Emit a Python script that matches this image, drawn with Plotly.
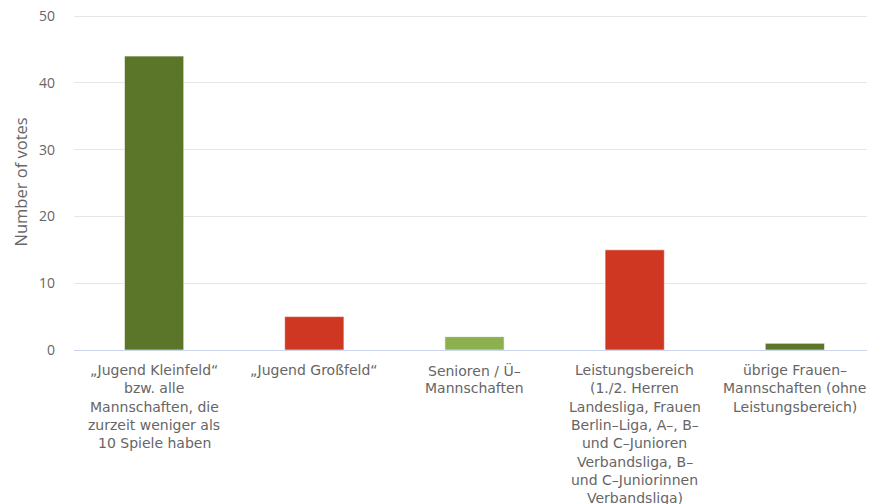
import plotly.graph_objects as go

categories = [
    "„Jugend Kleinfeld“<br>bzw. alle<br>Mannschaften, die<br>zurzeit weniger als<br>10 Spiele haben",
    "„Jugend Großfeld“",
    "Senioren / Ü–<br>Mannschaften",
    "Leistungsbereich<br>(1./2. Herren<br>Landesliga, Frauen<br>Berlin–Liga, A–, B–<br>und C–Junioren<br>Verbandsliga, B–<br>und C–Juniorinnen<br>Verbandsliga)",
    "übrige Frauen–<br>Mannschaften (ohne<br>Leistungsbereich)",
]
votes = [44, 5, 2, 15, 1]
colors = ["#5b7628", "#cf3723", "#8bb04d", "#cf3723", "#5b7628"]
y_ticks = [0, 10, 20, 30, 40, 50]

xs = list(range(len(categories)))

fig = go.Figure()
fig.add_trace(go.Bar(
    x=xs, y=votes,
    marker=dict(color=colors, line=dict(color="rgba(255,255,255,0.6)", width=1)),
    width=0.37,
    hoverinfo="y",
))

annotations = []
for i, cat in enumerate(categories):
    for k, line in enumerate(cat.split("<br>")):
        annotations.append(dict(
            x=i, xref="x", y=0, yref="paper", yanchor="top",
            yshift=-10 - 18.3 * k, text=line, showarrow=False,
            font=dict(family="DejaVu Sans", size=14, color="#666666"),
        ))
annotations.append(dict(
    x=0, xref="paper", y=0.5, yref="paper", xshift=-68, textangle=-90,
    text="Number of votes", showarrow=False,
    font=dict(family="Open Sans", size=16.5, color="#666666"),
))

fig.update_layout(
    width=875, height=504,
    margin=dict(l=66, r=8, t=6, b=162),
    paper_bgcolor="white", plot_bgcolor="white",
    showlegend=False,
    annotations=annotations,
    xaxis=dict(
        range=[-0.5, len(categories) - 0.5],
        showticklabels=False, showgrid=False, zeroline=False,
        showline=True, linecolor="#ccd6eb", linewidth=1,
    ),
    yaxis=dict(
        range=[0, max(y_ticks) * 1.006], tickvals=y_ticks,
        showgrid=True, gridcolor="#e6e6e6", gridwidth=1,
        zeroline=False, showline=False, automargin=False,
        tickfont=dict(family="Open Sans", size=14, color="#666666"),
        ticklabelstandoff=18, ticklabeloverflow="allow",
    ),
)

fig.write_html("out.html")
